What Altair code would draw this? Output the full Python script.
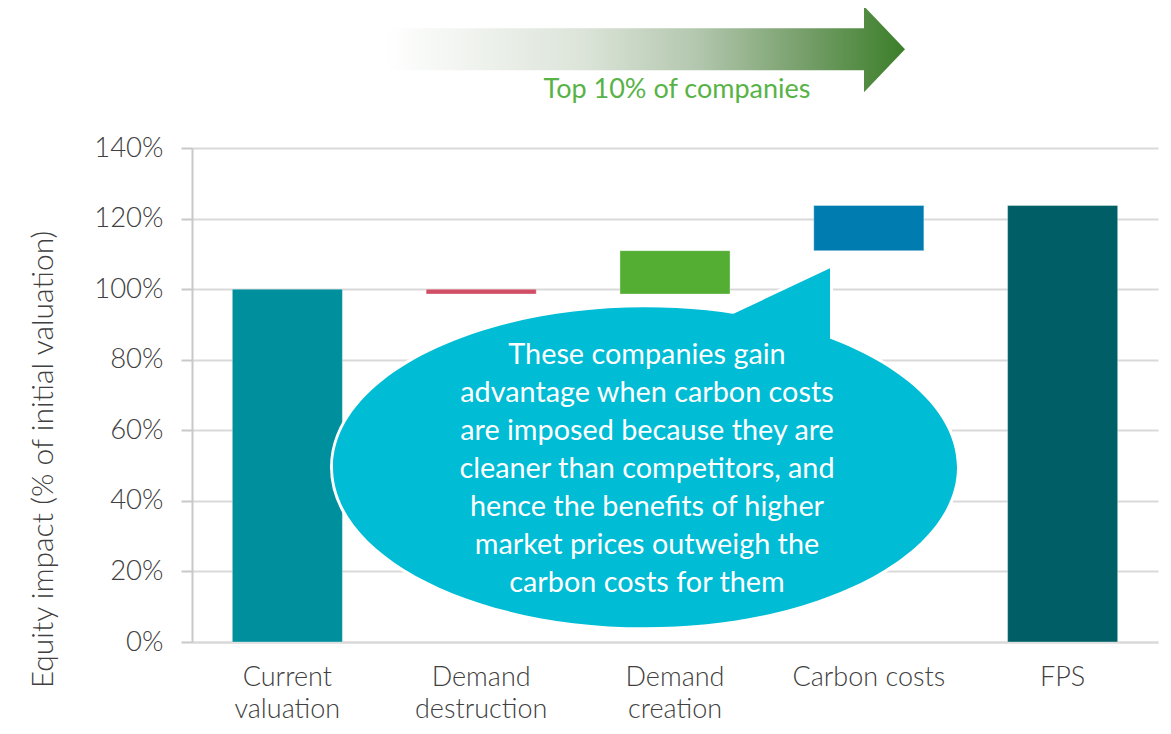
import altair as alt
import pandas as pd

# ---------------- data ----------------
categories = ["Current valuation", "Demand destruction", "Demand creation", "Carbon costs", "FPS"]
bar_start = [0, 100, 98.6, 110.9, 0]
bar_end = [100, 98.6, 110.9, 123.7, 123.7]
bar_colors = ["#008F9D", "#D04F66", "#53AE33", "#007CB0", "#005F66"]
y_ticks = [0, 20, 40, 60, 80, 100, 120, 140]

callout_lines = [
    "These companies gain",
    "advantage when carbon costs",
    "are imposed because they are",
    "cleaner than competitors, and",
    "hence the benefits of higher",
    "market prices outweigh the",
    "carbon costs for them",
]
arrow_label = "Top 10% of companies"

df = pd.DataFrame({"category": categories, "start": bar_start, "end": bar_end, "color": bar_colors})
one = pd.DataFrame({"k": [0]})

FONT = "Lato"
GREY = "#404040"

# ---------------- shapes (symbol paths, pixel units at size=4) ----------------
def ellipse_path(cx, rx, ry):
    k = 0.5523
    return (
        f"M {cx-rx},0 C {cx-rx},{-k*ry} {cx-k*rx},{-ry} {cx},{-ry} "
        f"C {cx+k*rx},{-ry} {cx+rx},{-k*ry} {cx+rx},0 "
        f"C {cx+rx},{k*ry} {cx+k*rx},{ry} {cx},{ry} "
        f"C {cx-k*rx},{ry} {cx-rx},{k*ry} {cx-rx},0 Z"
    )

callout_shape = ellipse_path(-30, 312, 160) + " M 51,-150 L 155,-199 L 155,-110 L 51,-110 Z"
arrow_shape = "M -290,-21 L 189,-21 L 189,-43 L 230,0 L 189,43 L 189,21 L -290,21 Z"

x_scale = alt.Scale(domain=categories, paddingInner=0.432, paddingOuter=0.208)
y_scale = alt.Scale(domain=[0, 140], nice=False)

bars = alt.Chart(df).mark_bar(stroke="white", strokeWidth=0.6, strokeOpacity=0.6).encode(
    x=alt.X(
        "category:N",
        scale=x_scale,
        sort=categories,
        axis=alt.Axis(
            title=None,
            labelAngle=0,
            ticks=False,
            domainColor="#D9D9D9",
            domainWidth=2,
            labelFont=FONT,
            labelFontSize=27,
            labelFontWeight=300,
            labelColor=GREY,
            labelPadding=22,
            labelLineHeight=32,
            labelExpr="datum.label == 'Carbon costs' ? datum.label : split(datum.label, ' ')",
        ),
    ),
    y=alt.Y(
        "start:Q",
        scale=y_scale,
        axis=alt.Axis(
            title="Equity impact (% of initial valuation)",
            values=y_ticks,
            labelExpr="datum.value + '%'",
            grid=True,
            gridColor="#D9D9D9",
            gridWidth=2,
            domainColor="#C8C8C8",
            domainWidth=2,
            tickColor="#C8C8C8",
            tickWidth=2,
            tickSize=11,
            labelPadding=18,
            labelFont=FONT,
            labelFontSize=27.5,
            labelFontWeight=300,
            labelColor=GREY,
            titleFont=FONT,
            titleFontSize=30,
            titleFontWeight=300,
            titleColor=GREY,
            titlePadding=35,
            titleY=311,
        ),
    ),
    y2="end:Q",
    color=alt.Color("color:N", scale=None),
)

def anchor(yval):
    return dict(
        x=alt.X(datum="Demand creation", type="nominal"),
        y=alt.Y(datum=yval, type="quantitative"),
    )

callout_bg = alt.Chart(one).mark_point(
    shape=callout_shape, size=4, filled=True, fill="#00BCD4", stroke="white",
    strokeWidth=6, strokeJoin="round", opacity=1,
).encode(**anchor(49.5))

callout_fg = alt.Chart(one).mark_point(
    shape=callout_shape, size=4, filled=True, fill="#00BCD4", strokeWidth=0, opacity=1,
).encode(**anchor(49.5))

callout_text = alt.Chart(one).mark_text(
    text=callout_lines, font=FONT, fontSize=28.8, color="white", lineHeight=38,
    align="center", baseline="middle", dx=-28,
).encode(**anchor(81.2))

arrow = alt.Chart(one).mark_point(
    shape=arrow_shape, size=4, filled=True, strokeWidth=0, opacity=1,
    fill=alt.LinearGradient(
        gradient="linear",
        stops=[
            alt.GradientStop(color="#FFFFFF", offset=0),
            alt.GradientStop(color="#DCE4D9", offset=0.38),
            alt.GradientStop(color="#B3C7AE", offset=0.6),
            alt.GradientStop(color="#78A06C", offset=0.8),
            alt.GradientStop(color="#3B7E29", offset=1),
        ],
        x1=0, x2=1, y1=0, y2=0,
    ),
).encode(**anchor(168))

arrow_text = alt.Chart(one).mark_text(
    text=arrow_label, font=FONT, fontSize=27, color="#58B347",
    align="center", baseline="middle", dx=2,
).encode(**anchor(156.3))

chart = alt.layer(bars, callout_bg, callout_fg, callout_text, arrow, arrow_text).properties(
    width=966,
    height=494,
    autosize=alt.AutoSizeParams(type="none"),
    padding={"left": 184, "top": 140, "right": 5, "bottom": 84},
    background="white",
).configure_view(stroke=None)

chart.save("out.html", embed_options={"renderer": "svg", "actions": False})
